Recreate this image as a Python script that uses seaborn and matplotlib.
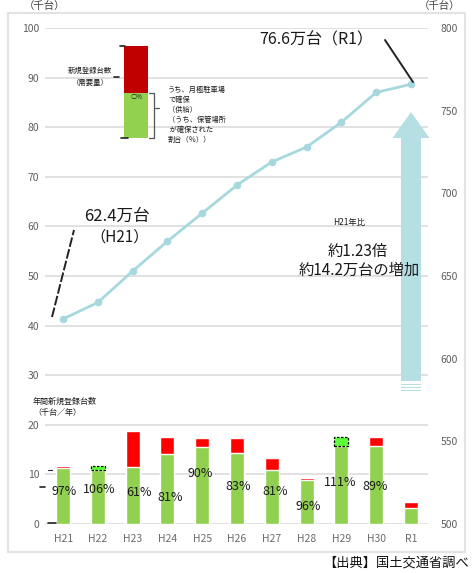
import numpy as np
import pandas as pd
import matplotlib
matplotlib.use("Agg")
import matplotlib.pyplot as plt
from matplotlib.patches import Rectangle, FancyArrow
from matplotlib.lines import Line2D
from matplotlib.transforms import Affine2D
import seaborn as sns

# 年度
years = ["H21", "H22", "H23", "H24", "H25", "H26", "H27", "H28", "H29", "H30", "R1"]
# 保有台数（千台）
owned = [624, 634, 653, 671, 688, 705, 719, 728, 743, 761, 766]
# 年間の新規登録台数（需要）と確保台数（千台）
demand = [11.7, 10.9, 18.8, 17.6, 17.3, 17.3, 13.3, 9.3, 15.8, 17.6, 4.4]
secured = [11.3, 11.6, 11.4, 14.2, 15.6, 14.4, 10.8, 8.9, 17.6, 15.7, 3.3]

left_ticks = [0, 10, 20, 30, 40, 50, 60, 70, 80, 90, 100]
right_ticks = [500, 550, 600, 650, 700, 750, 800]

# 割合ラベルの配置（左軸の高さ, 横ずれ）
pct_label_y = [6.5, 6.9, 6.3, 5.4, 10.1, 7.5, 6.5, 3.6, 8.3, 7.5]
pct_label_dx = [0.03, 0.05, 0.17, 0.09, -0.06, 0.03, 0.09, 0.06, -0.03, -0.03]

GREEN = "#92d050"
RED = "#ff0000"
LIME = "#5dff3b"
DARK_RED = "#c00000"
LINE_C = "#a6d8de"
ARROW_C = "#b6dfe4"
TICK_C = "#5f5f5f"

W, H = 472, 573
sns.set_theme(style="white")
plt.rcParams["font.family"] = ["Noto Sans CJK JP", "DejaVu Sans"]

fig = plt.figure(figsize=(W / 100, H / 100), dpi=100)
fig.patch.set_facecolor("white")
# 左上原点のピクセル座標
PX = Affine2D().scale(1, -1).translate(0, H)

ax = fig.add_axes([45 / W, (H - 524) / H, 383 / W, 496 / H])

# --- 棒グラフ（需要と確保台数） ---
df = pd.DataFrame({"year": years, "demand": demand, "secured": secured})
df["upper"] = df[["demand", "secured"]].max(axis=1)
df["lower"] = df[["demand", "secured"]].min(axis=1)
df["state"] = np.where(df["secured"] > df["demand"], "surplus", "shortage")

sns.barplot(data=df, x="year", y="upper", hue="state", order=years,
            palette={"shortage": RED, "surplus": LIME}, width=0.4,
            saturation=1, dodge=False, legend=False, ax=ax)
for p in list(ax.patches):
    i = int(round(p.get_x() + p.get_width() / 2))
    if 0 <= i < len(years) and secured[i] > demand[i]:
        p.set_y(demand[i])
        p.set_height(secured[i] - demand[i])
        p.set_edgecolor("black")
        p.set_linestyle((0, (2, 1.2)))
        p.set_linewidth(0.9)
        p.set_zorder(3)

sns.barplot(data=df, x="year", y="lower", order=years, color=GREEN,
            width=0.4, saturation=1, ax=ax)

for i, (yy, dx) in enumerate(zip(pct_label_y, pct_label_dx)):
    pct = round(secured[i] / demand[i] * 100)
    ax.text(i + dx, yy, f"{pct}%", ha="center", va="center",
            fontsize=9, color="#1a1a1a", zorder=5)

# --- 保有台数の推移（右軸） ---
ax2 = ax.twinx()
sns.lineplot(x=np.arange(len(years)), y=owned, ax=ax2, color=LINE_C,
             lw=2.0, marker="o", markersize=5.5, markeredgewidth=0)

ax.set_xlim(-0.52, 10.49)
ax.set_ylim(0, 100)
ax2.set_ylim(500, 800)

ax.set_yticks(left_ticks)
ax2.set_yticks(right_ticks)
ax.yaxis.grid(True, color="#d9d9d9", lw=1.1)
ax.xaxis.grid(False)
ax.set_axisbelow(True)
for a in (ax, ax2):
    for s in a.spines.values():
        s.set_visible(False)
    a.set_xlabel("")
    a.set_ylabel("")
ax.tick_params(axis="y", length=0, pad=4, labelsize=7.5, labelcolor=TICK_C)
ax.tick_params(axis="x", length=0, pad=7, labelsize=7.5, labelcolor="#6b6b6b")
ax2.tick_params(axis="y", length=0, pad=9, labelsize=7.5, labelcolor=TICK_C)

# --- 外枠 ---
fig.add_artist(Rectangle((8, 13), 457, 539, transform=PX, fill=False,
                         ec="#e3e3e3", lw=1.5))

# --- 増加を示す矢印 ---
fig.add_artist(FancyArrow(411, 381, 0, -269, width=20, head_width=37,
                          head_length=26, length_includes_head=True,
                          transform=PX, color=ARROW_C, lw=0))
for yy in (383.5, 386.5, 389.5):
    fig.add_artist(Rectangle((401, yy), 20, 1.4, transform=PX,
                             color=ARROW_C, lw=0))

def txt(x, y, s, **kw):
    kw.setdefault("ha", "center")
    kw.setdefault("va", "center")
    kw.setdefault("color", "#1a1a1a")
    fig.text(x, y, s, transform=PX, **kw)

def seg(xs, ys, **kw):
    kw.setdefault("color", "#222222")
    kw.setdefault("lw", 1.0)
    fig.add_artist(Line2D(xs, ys, transform=PX, **kw))

# 単位
txt(45, 6.5, "（千台）", fontsize=7.5, color="#444444")
txt(440, 6.5, "（千台）", fontsize=7.5, color="#444444")

# 吹き出し
txt(117, 216, "62.4万台", fontsize=12)
txt(120, 237, "（H21）", fontsize=11)
seg([52, 74], [317, 230], lw=1.4, ls=(0, (5, 1.2)))
txt(316, 40, "76.6万台（R1）", fontsize=11.5)
seg([385, 413], [40, 82], lw=1.4)

txt(349, 223, "H21年比", fontsize=6)
txt(358, 251, "約1.23倍", fontsize=11)
txt(359, 270, "約14.2万台の増加", fontsize=11)

# 凡例（棒の見方）
fig.add_artist(Rectangle((124, 46), 24, 47, transform=PX, color=DARK_RED, lw=0))
fig.add_artist(Rectangle((124, 93), 24, 45, transform=PX, color=GREEN, lw=0))
txt(137, 97, "○%", fontsize=4.5)
seg([120, 125], [46, 46], lw=1.2)
seg([121, 128], [138, 138], lw=1.2)
seg([114, 119], [77, 77], lw=1.2)
seg([149, 154, 154, 149], [93, 93, 138, 138], lw=0.9, color="#555555")
seg([155, 159], [108, 108], lw=0.9, color="#555555")
txt(90, 71, "新規登録台数", fontsize=5.3)
txt(90, 83, "（需要量）", fontsize=5.3)
right_lines = ["うち、月極駐車場", "で確保", "（供給）", "（うち、保管場所",
               " が確保された", "割合（％））"]
for k, line in enumerate(right_lines):
    txt(168, 90 + k * 10, line, fontsize=5.2, ha="left")

# 下段の見出し
txt(33, 401, "年間新規登録台数", fontsize=5.8, ha="left")
txt(33, 412, "（千台／年）", fontsize=5.8, ha="left")
seg([40, 45], [487, 487], lw=1.2)
seg([48, 56], [523, 523], lw=1.2)
seg([48, 52], [470, 470], lw=0.8)

# 出典
txt(469, 563, "【出典】国土交通省調べ", fontsize=9.5, ha="right", color="#111111")

fig.savefig("out.png", dpi=100)
